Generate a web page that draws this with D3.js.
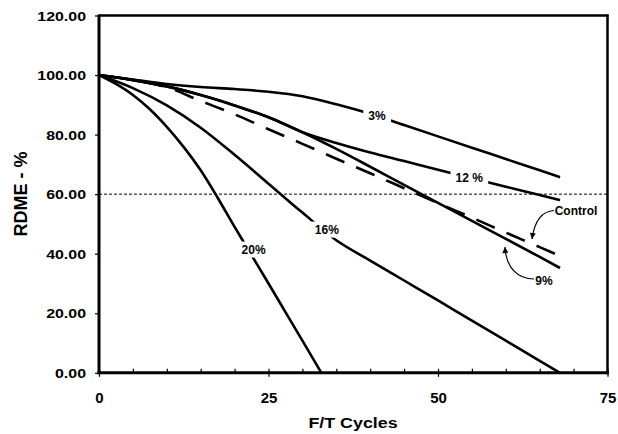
<!DOCTYPE html>
<html><head><meta charset="utf-8">
<script src="https://cdn.jsdelivr.net/npm/d3@7"></script>
<style>
html,body{margin:0;padding:0;background:#fff;}
svg{display:block;font-family:"Liberation Sans",Arial,sans-serif;font-weight:bold;}
</style></head><body>
<svg id="chart" width="618" height="434"></svg>
<script>
// Relative dynamic modulus (RDME, %) against freeze/thaw cycles
const cycles  = [0, 5, 10, 15, 20, 25, 30, 35, 40, 45, 50, 55, 60, 65, 68];
const pct3    = [100, 98.5, 97.0, 96.0, 95.3, 94.4, 92.9, 90.2, 87.0, 83.2, 79.4, 75.6, 71.8, 68.0, 65.7];
const pct9    = [100, 98.3, 96.2, 93.3, 89.8, 85.8, 80.8, 75.2, 69.2, 63.1, 57.1, 51.0, 45.0, 38.9, 35.2];
const pct12   = [100, 98.3, 96.2, 93.3, 89.8, 85.8, 80.8, 77.2, 74.0, 71.1, 68.2, 65.4, 62.5, 59.7, 58.0];
const control = [100, 98.3, 95.9, 91.3, 86.8, 81.8, 76.9, 71.9, 67.0, 62.0, 57.0, 52.1, 47.1, 42.2, 39.2];
const pct16   = [100, 95.6, 89.8, 82.3, 73.2, 63.5, 53.8, 44.5, 37.7, 31.0, 24.3, 17.5, 10.8, 4.0, 0];
const cycles20 = [0, 2.5, 5, 7.5, 10, 12.5, 15, 17.5, 20, 22.5, 25, 27.5, 30, 32.8];
const pct20    = [100, 97.0, 93.3, 88.5, 82.6, 75.8, 68.0, 58.8, 49.0, 39.5, 30.0, 20.4, 10.8, 0];

const xMajor = [0, 25, 50, 75];
const yTicks = [0, 20, 40, 60, 80, 100, 120];
const threshold = 60;

// label name, position in data units
const seriesLabels = [
  {text: "3%",   x: 41.0, y: 86.5},
  {text: "12 %", x: 54.6, y: 65.6},
  {text: "16%",  x: 33.6, y: 48.2},
  {text: "20%",  x: 22.8, y: 41.5}
];

const svg = d3.select("#chart");
const L = 99, R = 607.5, T = 15.5, B = 372.8;
const x = d3.scaleLinear().domain([0, 75]).range([L, R]);
const y = d3.scaleLinear().domain([0, 120]).range([B, T]);

// 60% reference line
svg.append("line")
  .attr("x1", x(0)).attr("x2", x(75))
  .attr("y1", y(threshold)).attr("y2", y(threshold))
  .attr("stroke", "#000").attr("stroke-width", 1)
  .attr("stroke-dasharray", "3,2");

const line = d3.line().x(d => x(d[0])).y(d => y(d[1])).curve(d3.curveMonotoneX);
const zip = (xs, ys) => xs.map((v, i) => [v, ys[i]]);

const solid = [zip(cycles, pct3), zip(cycles, pct12), zip(cycles, pct9), zip(cycles, pct16), zip(cycles20, pct20)];
svg.append("g").selectAll("path").data(solid).join("path")
  .attr("d", line).attr("fill", "none")
  .attr("stroke", "#000").attr("stroke-width", 2.6);

// Control: dashed
const ctrl = svg.append("path")
  .attr("d", line(zip(cycles, control)))
  .attr("fill", "none").attr("stroke", "#000").attr("stroke-width", 2.6);
{
  const node = ctrl.node();
  const total = node.getTotalLength();
  const period = 32.8;
  let L0 = 0;
  for (let s = 0; s < total; s += 0.5) {
    if (node.getPointAtLength(s).x >= 205) { L0 = s; break; }
  }
  const off = (period - (L0 % period)) % period;
  ctrl.attr("stroke-dasharray", "20,12.8").attr("stroke-dashoffset", off);
}

// Axes
const yAxis = d3.axisLeft(y).tickValues(yTicks).tickSizeInner(4).tickSizeOuter(0)
  .tickFormat(d3.format(".2f"));
const gy = svg.append("g").attr("transform", `translate(${L},0)`).call(yAxis);
gy.select(".domain").remove();
gy.selectAll("line").attr("stroke-width", 1.2);
gy.selectAll("text")
  .attr("x", -13 / 1.18).attr("dy", "0.34em")
  .attr("transform", "scale(1.18,1)")
  .style("font-family", "'Liberation Sans',Arial,sans-serif")
  .style("font-weight", "bold").style("font-size", "13.5px").attr("fill", "#000");

const xMinor = d3.axisBottom(x).tickValues(d3.range(0, 76, 5)).tickSizeInner(-4).tickSizeOuter(0).tickFormat("");
const gxm = svg.append("g").attr("transform", `translate(0,${B})`).call(xMinor);
gxm.select(".domain").remove();
gxm.selectAll("line").attr("stroke-width", 1.2);

const xAxis = d3.axisBottom(x).tickValues(xMajor).tickSizeInner(4).tickSizeOuter(0).tickFormat(d3.format("d"));
const gx = svg.append("g").attr("transform", `translate(0,${B})`).call(xAxis);
gx.select(".domain").remove();
gx.selectAll("line").attr("stroke-width", 1.2);
gx.selectAll("text").attr("y", 30).attr("dy", 0)
  .style("font-family", "'Liberation Sans',Arial,sans-serif")
  .style("font-weight", "bold").style("font-size", "15px").attr("fill", "#000");

// Frame
svg.append("line").attr("x1", L).attr("x2", L).attr("y1", T - 1).attr("y2", B + 1.5)
  .attr("stroke", "#000").attr("stroke-width", 3);
svg.append("line").attr("x1", L - 1.5).attr("x2", R + 1).attr("y1", B).attr("y2", B)
  .attr("stroke", "#000").attr("stroke-width", 3);
svg.append("line").attr("x1", L).attr("x2", R + 1).attr("y1", T).attr("y2", T)
  .attr("stroke", "#000").attr("stroke-width", 2.3);
svg.append("line").attr("x1", R).attr("x2", R).attr("y1", T - 1).attr("y2", B + 1.5)
  .attr("stroke", "#000").attr("stroke-width", 2.5);

// Series labels on the curves
const lab = svg.append("g").selectAll("g").data(seriesLabels).join("g")
  .attr("transform", d => `translate(${x(d.x)},${y(d.y)})`);
lab.append("rect").attr("fill", "#fff");
lab.append("text").attr("text-anchor", "middle").attr("dy", "0.36em")
  .style("font-size", "12px").text(d => d.text);
lab.each(function() {
  const g = d3.select(this);
  const bb = g.select("text").node().getBBox();
  g.select("rect").attr("x", bb.x - 5).attr("y", bb.y - 1)
    .attr("width", bb.width + 10).attr("height", bb.height + 2);
});

// Call-out labels with arrows
const defs = svg.append("defs");
defs.append("marker").attr("id", "tip").attr("viewBox", "0 0 10 10")
  .attr("refX", 10).attr("refY", 5).attr("markerWidth", 7).attr("markerHeight", 6)
  .attr("markerUnits", "userSpaceOnUse").attr("orient", "auto")
  .append("path").attr("d", "M0,0 L10,5 L0,10 Z").attr("fill", "#000");

svg.append("text").attr("x", 576).attr("y", 214.5).attr("text-anchor", "middle")
  .style("font-size", "12px").text("Control");
svg.append("text").attr("x", 544).attr("y", 285).attr("text-anchor", "middle")
  .style("font-size", "12px").text("9%");

svg.append("path").attr("d", "M554,210.5 C544,211 535,218 532,239")
  .attr("fill", "none").attr("stroke", "#000").attr("stroke-width", 1.2)
  .attr("marker-end", "url(#tip)");
svg.append("path").attr("d", "M534,279 C518,279 506,268 505,247")
  .attr("fill", "none").attr("stroke", "#000").attr("stroke-width", 1.2)
  .attr("marker-end", "url(#tip)");

// Axis titles
svg.append("text").attr("text-anchor", "middle")
  .attr("transform", "translate(353,428) scale(1.15,1)")
  .style("font-size", "15.5px").text("F/T Cycles");
svg.append("text").attr("text-anchor", "middle")
  .attr("transform", "translate(26.5,194) rotate(-90)")
  .style("font-size", "18px").text("RDME - %");
</script>
</body></html>
